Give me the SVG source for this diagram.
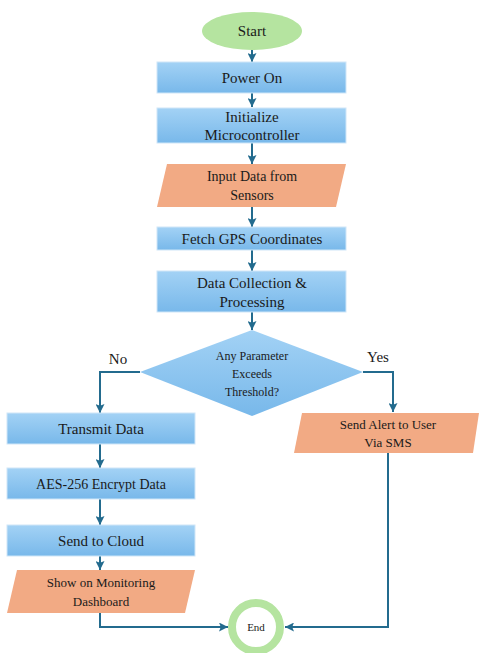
<svg xmlns="http://www.w3.org/2000/svg" width="479" height="653" viewBox="0 0 479 653">
<defs>
<linearGradient id="blue" x1="0" y1="0" x2="0" y2="1">
<stop offset="0" stop-color="#a3d2f5"/>
<stop offset="1" stop-color="#78b8ea"/>
</linearGradient>
<marker id="ah" viewBox="0 0 10 10" refX="10" refY="5" markerWidth="9" markerHeight="9" orient="auto" markerUnits="userSpaceOnUse">
<path d="M0,0 L10,5 L0,10 L2,5 Z" fill="#236b8e"/>
</marker>
<style>
.box{fill:url(#blue);stroke:#cfe6f8;stroke-width:1}
.io{fill:#f2aa84}
text{font-family:"Liberation Serif","Times New Roman",Times,"DejaVu Serif",serif;fill:#1a1a1a;text-anchor:middle}
.c{fill:none;stroke:#236b8e;stroke-width:2;marker-end:url(#ah)}
</style>
</defs>
<g id="connectors">
<path class="c" d="M252,50 V62"/>
<path class="c" d="M252,93 V107"/>
<path class="c" d="M252,143 V164"/>
<path class="c" d="M252,207 V227"/>
<path class="c" d="M252,250 V271"/>
<path class="c" d="M252,312 V330"/>
<path class="c" d="M140,372 H100 V413"/>
<path class="c" d="M363,372 H393 V412"/>
<path class="c" d="M100,444 V468"/>
<path class="c" d="M100,499 V525"/>
<path class="c" d="M100,556 V570"/>
<path class="c" d="M100,613 V627 H228"/>
<path class="c" d="M388,453 V627 H285"/>
</g>
<g id="start">
<ellipse cx="252" cy="31" rx="50" ry="19" fill="#b5e4a0"/>
<text x="252" y="36" font-size="15">Start</text>
</g>
<g id="power">
<rect class="box" x="157" y="62" width="189" height="31"/>
<text x="252" y="83" font-size="15">Power On</text>
</g>
<g id="init">
<rect class="box" x="157" y="108" width="189" height="35"/>
<text x="252" y="122" font-size="15">Initialize</text>
<text x="252" y="140" font-size="15">Microcontroller</text>
</g>
<g id="input">
<polygon class="io" points="167,164 346,164 336,207 157,207"/>
<text x="252" y="181" font-size="14">Input Data from</text>
<text x="252" y="200" font-size="14">Sensors</text>
</g>
<g id="gps">
<rect class="box" x="157" y="227" width="189" height="23"/>
<text x="252" y="244" font-size="15">Fetch GPS Coordinates</text>
</g>
<g id="process">
<rect class="box" x="157" y="271" width="189" height="41"/>
<text x="252" y="288" font-size="15">Data Collection &amp;</text>
<text x="252" y="307" font-size="15">Processing</text>
</g>
<g id="decision">
<polygon points="252,330 363,372 252,416 140,372" fill="url(#blue)"/>
<text x="252" y="360" font-size="12">Any Parameter</text>
<text x="252" y="378" font-size="12">Exceeds</text>
<text x="252" y="396" font-size="12">Threshold?</text>
<text x="118" y="364" font-size="15">No</text>
<text x="378" y="362" font-size="15">Yes</text>
</g>
<g id="transmit">
<rect class="box" x="7" y="413" width="188" height="31"/>
<text x="101" y="434" font-size="15">Transmit Data</text>
</g>
<g id="aes">
<rect class="box" x="7" y="468" width="188" height="31"/>
<text x="101" y="489" font-size="14">AES-256 Encrypt Data</text>
</g>
<g id="cloud">
<rect class="box" x="7" y="525" width="188" height="31"/>
<text x="101" y="546" font-size="15">Send to Cloud</text>
</g>
<g id="dashboard">
<polygon class="io" points="17,570 195,570 185,613 7,613"/>
<text x="101" y="587" font-size="13">Show on Monitoring</text>
<text x="101" y="606" font-size="13">Dashboard</text>
</g>
<g id="alert">
<polygon class="io" points="302,413 479,413 473,453 294,453"/>
<text x="388" y="429" font-size="13">Send Alert to User</text>
<text x="388" y="447" font-size="13">Via SMS</text>
</g>
<g id="end">
<circle cx="256" cy="627" r="24" fill="#ffffff" stroke="#b5e4a0" stroke-width="8"/>
<text x="256" y="631" font-size="11">End</text>
</g>
</svg>
